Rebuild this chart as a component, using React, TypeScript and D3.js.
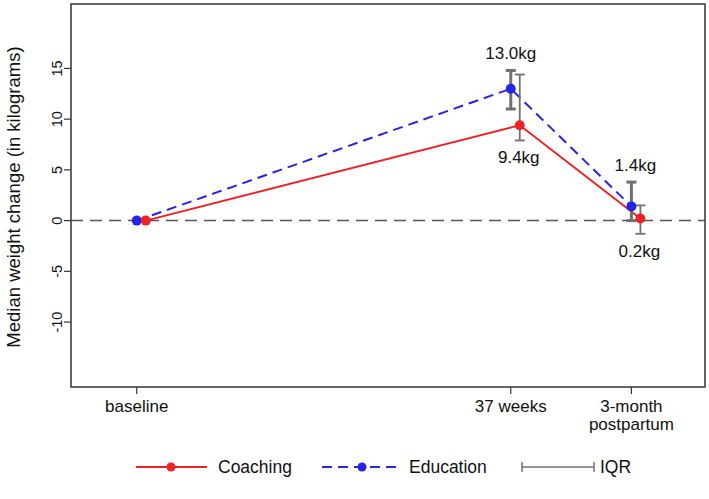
import React from 'react';
import * as d3 from 'd3';

// time points on the x axis (position in arbitrary units)
const timeLabels = [['baseline'], ['37 weeks'], ['3-month', 'postpartum']];
const timePos = [0, 3.1, 4.1];

// median weight change (kg)
const coaching = [0, 9.4, 0.2];
const education = [0, 13.0, 1.4];

// interquartile ranges [low, high], null where none drawn
const coachingIqr = [null, [7.9, 14.4], [-1.3, 1.5]];
const educationIqr = [null, [11.0, 14.8], [0.0, 3.8]];

// value labels: education above its IQR, coaching below
const coachingLabels = [null, '9.4kg', '0.2kg'];
const educationLabels = [null, '13.0kg', '1.4kg'];

const yTicks = [15, 10, 5, 0, -5, -10];

const W = 709;
const H = 499;
const left = 71, right = 705, top = 4, bottom = 387;
const font = '"Liberation Sans", Arial, sans-serif';

const RED = '#ec2227';
const BLUE = '#2424e6';
const GREY = '#707070';

const App = () => {
  const x = d3.scaleLinear().domain([-0.545, 4.71]).range([left, right]);
  const y = d3.scaleLinear().domain([-16.4, 21.35]).range([bottom, top]);
  const dodge = 9; // coaching points nudged right

  const line = d3.line<[number, number]>().x(d => d[0]).y(d => d[1]);
  const eduPts: [number, number][] = education.map((v, i) => [x(timePos[i]), y(v)]);
  const coaPts: [number, number][] = coaching.map((v, i) => [x(timePos[i]) + dodge, y(v)]);

  const iqrBar = (r, cx, w, key) => r && (
    <g key={key} stroke={GREY} strokeWidth={w} fill="none">
      <line x1={cx} x2={cx} y1={y(r[0])} y2={y(r[1])} />
      <line x1={cx - 5} x2={cx + 5} y1={y(r[0])} y2={y(r[0])} />
      <line x1={cx - 5} x2={cx + 5} y1={y(r[1])} y2={y(r[1])} />
    </g>
  );

  return (
    <svg width={W} height={H} style={{ position: 'absolute', left: 0, top: 0 }} fontFamily={font}>
      <rect width={W} height={H} fill="#fff" />
      {/* zero reference line */}
      <line x1={left} x2={right} y1={y(0)} y2={y(0)} stroke="#555" strokeWidth={1.5} strokeDasharray="12 7" />

      {/* series lines */}
      <path d={line(coaPts) || ''} fill="none" stroke={RED} strokeWidth={2} />
      <path d={line(eduPts) || ''} fill="none" stroke={BLUE} strokeWidth={2} strokeDasharray="10 6" />

      {/* IQR bars */}
      {educationIqr.map((r, i) => iqrBar(r, x(timePos[i]), 3, 'e' + i))}
      {coachingIqr.map((r, i) => iqrBar(r, x(timePos[i]) + dodge, 1.8, 'c' + i))}

      {/* points */}
      {eduPts.map((p, i) => <circle key={'ep' + i} cx={p[0]} cy={p[1]} r={5} fill={BLUE} />)}
      {coaPts.map((p, i) => <circle key={'cp' + i} cx={p[0]} cy={p[1]} r={5} fill={RED} />)}

      {/* value labels */}
      {educationLabels.map((t, i) => t && (
        <text key={'el' + i} x={x(timePos[i]) + (i === 2 ? 4 : 0)} y={y(educationIqr[i][1]) - 11}
          textAnchor="middle" fontSize={17} fill="#111">{t}</text>
      ))}
      {coachingLabels.map((t, i) => t && (
        <text key={'cl' + i} x={x(timePos[i]) + dodge - 1} y={y(coachingIqr[i][0]) + 23}
          textAnchor="middle" fontSize={17} fill="#111">{t}</text>
      ))}

      {/* frame */}
      <rect x={left} y={top} width={right - left} height={bottom - top} fill="none" stroke="#333" strokeWidth={1.5} />

      {/* y axis */}
      {yTicks.map(t => (
        <g key={'yt' + t}>
          <line x1={left - 7} x2={left} y1={y(t)} y2={y(t)} stroke="#333" strokeWidth={1.2} />
          <text transform={`translate(${left - 9},${y(t)}) rotate(-90)`} textAnchor="middle"
            fontSize={14.5} fill="#111">{t}</text>
        </g>
      ))}
      <text transform={`translate(20,197) rotate(-90)`} textAnchor="middle" fontSize={18.5} fill="#111">
        Median weight change (in kilograms)
      </text>

      {/* x axis */}
      {timePos.map((p, i) => (
        <g key={'xt' + i}>
          <line x1={x(p)} x2={x(p)} y1={bottom} y2={bottom + 7} stroke="#333" strokeWidth={1.2} />
          {timeLabels[i].map((s, j) => (
            <text key={j} x={x(p)} y={412 + j * 17.5} textAnchor="middle" fontSize={17} fill="#111">{s}</text>
          ))}
        </g>
      ))}

      {/* legend */}
      <g>
        <line x1={136} x2={207} y1={467} y2={467} stroke={RED} strokeWidth={2} />
        <circle cx={171} cy={467} r={4.5} fill={RED} />
        <text x={218} y={473} fontSize={17.5} fill="#111">Coaching</text>

        <line x1={322} x2={398} y1={467} y2={467} stroke={BLUE} strokeWidth={2} strokeDasharray="10 6" />
        <circle cx={362} cy={467} r={4.5} fill={BLUE} />
        <text x={409} y={473} fontSize={17.5} fill="#111">Education</text>

        <g stroke={GREY} strokeWidth={1.5}>
          <line x1={522} x2={594} y1={467} y2={467} />
          <line x1={522} x2={522} y1={462} y2={472} />
          <line x1={594} x2={594} y1={462} y2={472} />
        </g>
        <text x={600} y={473} fontSize={17.5} fill="#111">IQR</text>
      </g>
    </svg>
  );
};

export default App;
